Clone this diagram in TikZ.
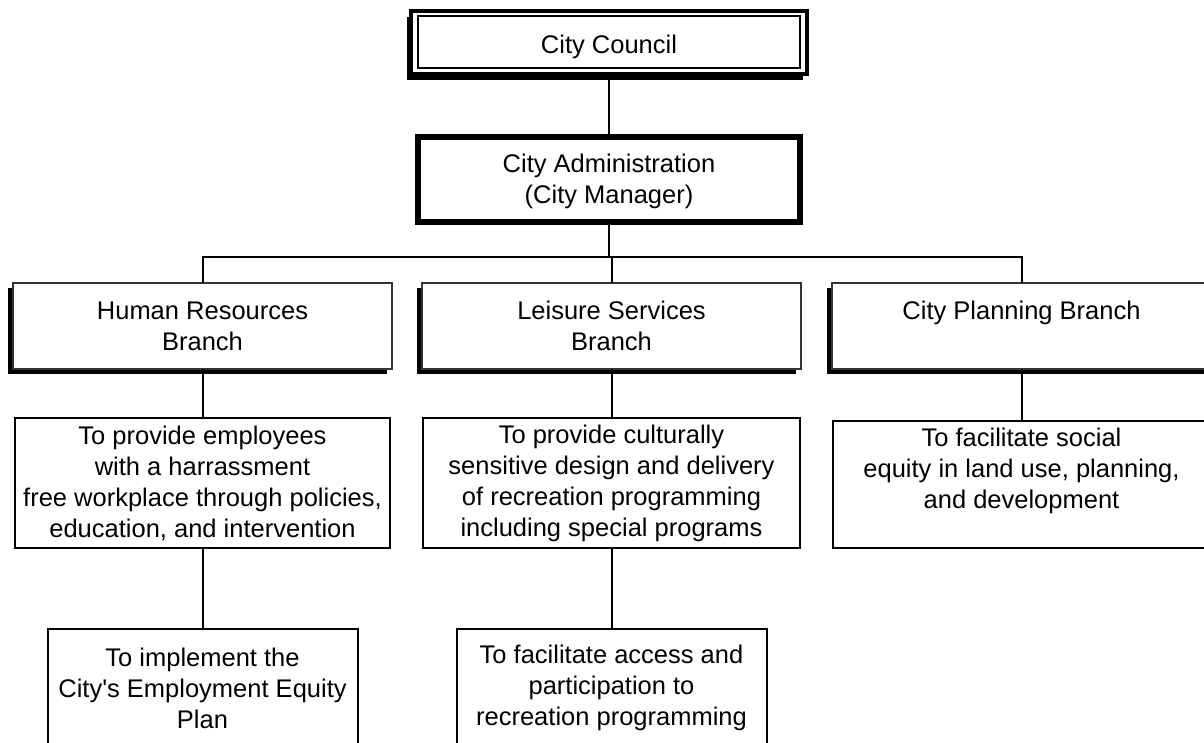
\documentclass[tikz,border=0pt]{standalone}
\usepackage{fontspec}
\setmainfont{Liberation Sans}[Ligatures=TeXOff]
\usetikzlibrary{shadows}
\begin{document}
\begin{tikzpicture}[x=1pt,y=-1pt,
  every node/.style={outer sep=0pt, inner sep=0pt, align=center,
    font=\fontsize{25.5}{31}\selectfont},
  conn/.style={line width=2pt},
  boxbase/.style={draw, fill=white, line width=2pt},
  councilbox/.style={draw, fill=white, line width=4pt,
    drop shadow={shadow xshift=-4pt, shadow yshift=-6pt, fill=black, opacity=1}},
  adminbox/.style={draw, fill=white, line width=6pt},
  branchbox/.style={draw=black!80, fill=white, line width=1.6pt,
    minimum width=379pt, minimum height=86pt,
    drop shadow={shadow xshift=-5pt, shadow yshift=-5pt, fill=black, opacity=1}},
  goalbox/.style={boxbase, minimum height=130pt},
  subbox/.style={boxbase, minimum width=310pt, minimum height=118pt}
]
\path[use as bounding box, clip] (0,0) rectangle (1204,743);
\fill[white] (0,0) rectangle (1204,743);

% top levels
\node[councilbox, minimum width=396pt, minimum height=63pt] (council) at (609,42.5) {};
\draw[line width=1.3pt] ([xshift=7pt,yshift=-5pt]council.north west) rectangle ([xshift=-7pt,yshift=6pt]council.south east);
\node (counciltext) at (609,47) {City Council};
\node[adminbox, minimum width=382pt, minimum height=85pt] (admin) at (609,179.5) {};
\node (admintext) at (609,181.5) {City Administration\\(City Manager)};

% branches
\node[branchbox] (hr) at (202.5,326) {Human Resources\\Branch};
\node[branchbox] (ls) at (611.5,326) {Leisure Services\\Branch};
\node[branchbox] (cp) at (1021.5,326) {City Planning Branch\\\mbox{}};

\coordinate (bus) at (609,257);

% goals
\node[goalbox, minimum width=375pt] (hrg) at (202.5,483) {To provide employees\\with a harrassment\\free workplace through policies,\\education, and intervention};
\node[goalbox, minimum width=377pt] (lsg) at (611.5,483) {To provide culturally\\sensitive design and delivery\\of recreation programming\\including special programs};
\node[goalbox, minimum width=378pt, minimum height=127pt] (cpg) at (1021.5,484) {To facilitate social\\equity in land use, planning,\\and development\\\mbox{}};

% sub goals
\node[subbox] (hrs) at (202.5,688) {To implement the\\City's Employment Equity\\Plan};
\node[subbox] (lss) at (611.5,688) {To facilitate access and\\participation to\\recreation programming};

% connectors
\draw[conn] (council.south) -- (admin.north);
\draw[conn] (admin.south) -- (admin.south |- bus);
\draw[conn] (hr.north) -- (hr.north |- bus) -- (cp.north |- bus) -- (cp.north);
\draw[conn] (ls.north) -- (ls.north |- bus);
\draw[conn] (hr.south) -- (hrg.north);
\draw[conn] (ls.south) -- (lsg.north);
\draw[conn] (cp.south) -- (cpg.north);
\draw[conn] (hrg.south) -- (hrs.north);
\draw[conn] (lsg.south) -- (lss.north);
\end{tikzpicture}
\end{document}
